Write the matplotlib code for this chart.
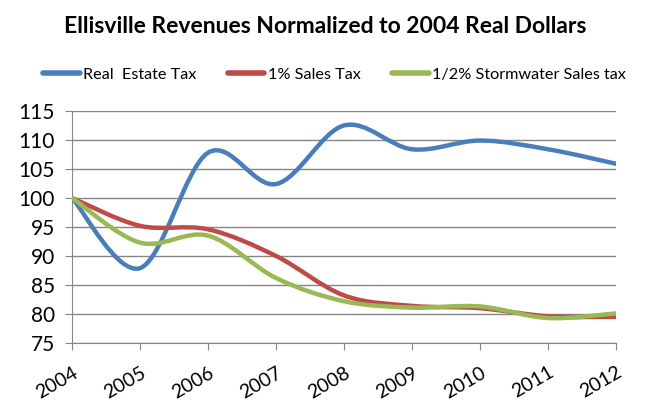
import numpy as np
import matplotlib.pyplot as plt
from matplotlib.path import Path
from matplotlib.patches import PathPatch
from matplotlib.lines import Line2D
from matplotlib.transforms import ScaledTranslation

years = [2004, 2005, 2006, 2007, 2008, 2009, 2010, 2011, 2012]
real_estate = [100, 87.9, 107.8, 102.4, 112.5, 108.4, 109.9, 108.4, 105.9]
sales_1pct = [100, 95.2, 94.6, 90.0, 83.2, 81.4, 81.0, 79.6, 79.5]
stormwater = [100, 92.3, 93.5, 86.2, 82.2, 81.1, 81.3, 79.3, 80.1]

names = ["Real  Estate Tax", "1% Sales Tax", "1/2% Stormwater Sales tax"]
colors = ["#4a7ebb", "#be4b48", "#98b954"]


def smooth_path(xs, ys):
    # excel style smoothed line: bezier through points, catmull-rom handles
    xs = np.asarray(xs, float)
    ys = np.asarray(ys, float)
    n = len(xs)
    verts = [(xs[0], ys[0])]
    codes = [Path.MOVETO]
    for i in range(n - 1):
        p0 = i - 1 if i > 0 else i
        p3 = i + 2 if i + 2 < n else i + 1
        c1 = (xs[i] + (xs[i + 1] - xs[p0]) / 6, ys[i] + (ys[i + 1] - ys[p0]) / 6)
        c2 = (xs[i + 1] - (xs[p3] - xs[i]) / 6, ys[i + 1] - (ys[p3] - ys[i]) / 6)
        verts += [c1, c2, (xs[i + 1], ys[i + 1])]
        codes += [Path.CURVE4] * 3
    return Path(verts, codes)


fig = plt.figure(figsize=(6.57, 4.11), dpi=100)
ax = fig.add_axes([0.1096, 0.1655, 0.828, 0.5645])

for vals, c in zip([real_estate, sales_1pct, stormwater], colors):
    patch = PathPatch(smooth_path(years, vals), facecolor="none", edgecolor=c,
                      lw=3.2, capstyle="round", joinstyle="round", zorder=3)
    ax.add_patch(patch)

ax.set_xlim(2004, 2012)
ax.set_ylim(75, 115)
ax.set_yticks(range(75, 116, 5))
ax.set_xticks(years)
ax.set_xticklabels([str(y) for y in years], rotation=30, ha="right",
                   rotation_mode="anchor", fontsize=14, family="Lato")
shift = ScaledTranslation(4 / 100, 0, fig.dpi_scale_trans)
for lab in ax.get_xticklabels():
    lab.set_transform(lab.get_transform() + shift)
ax.tick_params(axis="y", labelsize=15, length=5, color="#868686", pad=7.5)
ax.tick_params(axis="x", length=5, color="#868686", pad=10)
for lab in ax.get_yticklabels():
    lab.set_family("Lato")
ax.grid(axis="y", color="#868686", lw=1)
ax.set_axisbelow(True)
for side in ["top", "right"]:
    ax.spines[side].set_visible(False)
for side in ["left", "bottom"]:
    ax.spines[side].set_color("#868686")

fig.text(0.495, 1 - 33 / 411, "Ellisville Revenues Normalized to 2004 Real Dollars",
         ha="center", va="baseline", fontsize=16.5, fontweight="bold", family="Lato")

handles = [Line2D([0], [0], color=c, lw=4, solid_capstyle="round") for c in colors]
fig.legend(handles, names, loc="center", bbox_to_anchor=(0.509, 1 - 75 / 411), ncol=3,
           frameon=False, handlelength=2.25, handletextpad=0.2, columnspacing=1.95,
           prop={"family": "Lato", "size": 11.7})

fig.savefig("out.png", dpi=100)
